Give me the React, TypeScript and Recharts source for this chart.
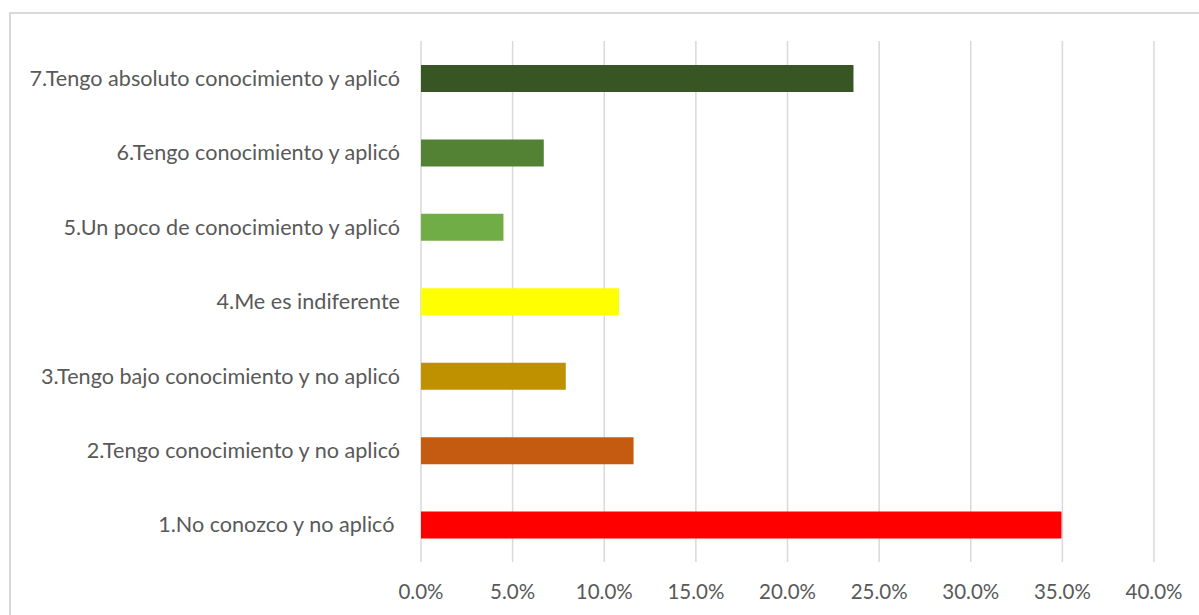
import React from "react";
import { BarChart, Bar, XAxis, YAxis, CartesianGrid, Cell } from "recharts";

const categories = [
  "1.No conozco y no aplicó\u00a0",
  "2.Tengo conocimiento y no aplicó",
  "3.Tengo bajo conocimiento y no aplicó",
  "4.Me es indiferente",
  "5.Un poco de conocimiento y aplicó",
  "6.Tengo conocimiento y aplicó",
  "7.Tengo absoluto conocimiento y aplicó",
];
const values = [0.3495, 0.116, 0.079, 0.108, 0.045, 0.067, 0.236];
const colors = ["#FF0000", "#C55A11", "#BF9000", "#FFFF00", "#70AD47", "#548235", "#375623"];
const xTicks = [0, 0.05, 0.1, 0.15, 0.2, 0.25, 0.3, 0.35, 0.4];

const data = categories.map((c, i) => ({ name: c, value: values[i] }));

const FONT = "Lato, 'Open Sans', sans-serif";

export default function App() {
  return (
    <div style={{ position: "absolute", left: 0, top: 0, width: 1199, height: 615, background: "#fff", overflow: "hidden" }}>
      <div
        style={{
          position: "absolute",
          left: 9,
          top: 12,
          width: 1300,
          height: 700,
          border: "2px solid #d9d9d9",
        }}
      />
      <div style={{ position: "absolute", left: 0, top: 0 }}>
        <BarChart
          width={1199}
          height={615}
          data={data}
          layout="vertical"
          margin={{ top: 41, right: 45, bottom: 0, left: 0 }}
          barCategoryGap="0%"
        >
          <CartesianGrid horizontal={false} vertical={true} stroke="#d9d9d9" strokeWidth={1.5} />
          <XAxis
            type="number"
            domain={[0, 0.4]}
            ticks={xTicks}
            tickFormatter={(v: number) => (v * 100).toFixed(1) + "%"}
            axisLine={false}
            tickLine={false}
            height={53}
            tickMargin={16}
            tick={{ fill: "#595959", fontSize: 20.5, fontFamily: FONT }}
            interval={0}
          />
          <YAxis
            type="category"
            dataKey="name"
            reversed
            width={421}
            axisLine={false}
            tickLine={false}
            tickMargin={15}
            tick={{ fill: "#595959", fontSize: 21.6, fontFamily: FONT }}
            interval={0}
          />
          <Bar dataKey="value" barSize={27} isAnimationActive={false}>
            {data.map((d, i) => (
              <Cell key={d.name} fill={colors[i]} />
            ))}
          </Bar>
        </BarChart>
      </div>
    </div>
  );
}
